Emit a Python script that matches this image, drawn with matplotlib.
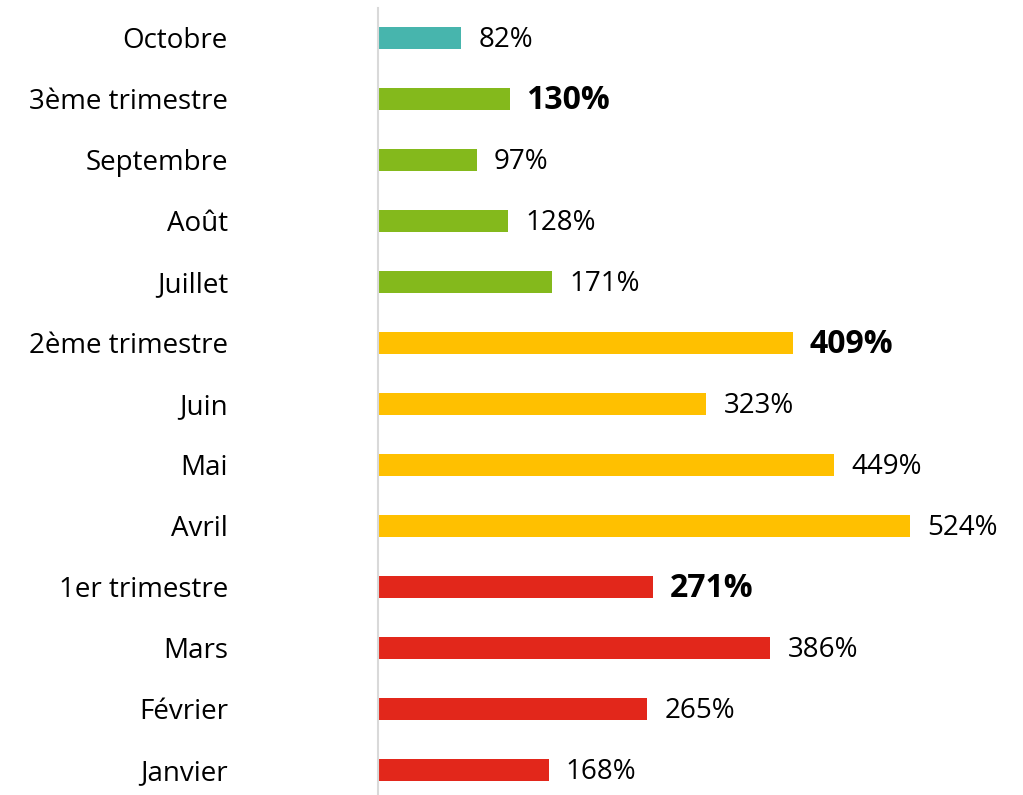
import matplotlib.pyplot as plt

# rows from bottom (Janvier) to top (Octobre)
labels = ["Janvier", "Février", "Mars", "1er trimestre", "Avril", "Mai", "Juin",
          "2ème trimestre", "Juillet", "Août", "Septembre", "3ème trimestre", "Octobre"]
values = [168, 265, 386, 271, 524, 449, 323, 409, 171, 128, 97, 130, 82]
groups = ["q1", "q1", "q1", "q1", "q2", "q2", "q2", "q2", "q3", "q3", "q3", "q3", "q4"]
is_total = [False, False, False, True, False, False, False, True, False, False, False, True, False]

colors = {"q1": "#E2271B", "q2": "#FFC000", "q3": "#84B91C", "q4": "#47B5AD"}

plt.rcParams['font.family'] = ['Open Sans', 'DejaVu Sans']

fig = plt.figure(figsize=(10.23, 7.95), dpi=100)
ax = fig.add_axes([378 / 1023, 0, 1 - 378 / 1023, 787 / 795])

ypos = list(range(len(labels)))
ax.barh(ypos, values, height=0.36, color=[colors[g] for g in groups])

for y, v, t in zip(ypos, values, is_total):
    if t:
        ax.text(v + 16, y - 0.02, f"{v}%", va="center", ha="left", fontsize=23,
                fontweight="bold", color="black")
    else:
        ax.text(v + 17, y - 0.03, f"{v}%", va="center", ha="left", fontsize=20,
                color="black")

ax.set_xlim(0, 635)
ax.set_ylim(-0.41, 12.49)
ax.set_yticks(ypos)
ax.set_yticklabels(labels, fontsize=20)
ax.tick_params(axis="y", length=0, pad=108)
ax.set_xticks([])
for s in ["top", "right", "bottom"]:
    ax.spines[s].set_visible(False)
ax.spines["left"].set_color("#D9D9D9")
ax.spines["left"].set_linewidth(1.5)

fig.savefig("out.png", dpi=100)
